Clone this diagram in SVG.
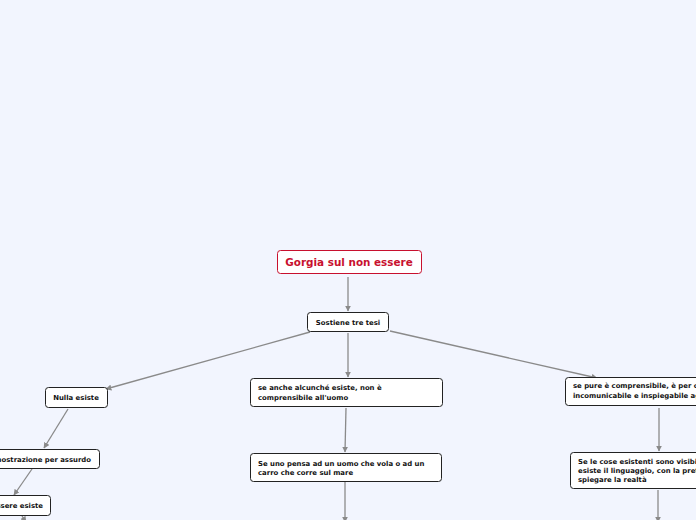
<svg xmlns="http://www.w3.org/2000/svg" width="696" height="520" viewBox="0 0 696 520">
<style>
.bg{fill:#f2f5fe}
.box{fill:#ffffff;stroke:#222;stroke-width:1}
.root{fill:#ffffff;stroke:#c8102e;stroke-width:1}
.t{font-family:"DejaVu Sans",Verdana,sans-serif;font-weight:bold;font-size:6.9px;fill:#111}
.rt{font-family:"DejaVu Sans",Verdana,sans-serif;font-weight:bold;font-size:10.4px;fill:#c8102e}
.c{stroke:#8a8a8a;stroke-width:1.3;fill:none;marker-end:url(#a)}
</style>
<defs>
<marker id="a" viewBox="0 0 10 10" refX="9" refY="5" markerWidth="6" markerHeight="6" orient="auto" markerUnits="userSpaceOnUse">
<path d="M0,0 L10,5 L0,10 z" fill="#8a8a8a"/>
</marker>
</defs>
<rect class="bg" x="0" y="0" width="696" height="520"/>
<g id="connectors">
<path class="c" d="M348,277 L348,311"/>
<path class="c" d="M310,332 L106,389"/>
<path class="c" d="M348,333 L348,377"/>
<path class="c" d="M390,331 L597,378"/>
<path class="c" d="M68,409 L44,448"/>
<path class="c" d="M32,469 L14,495"/>
<path class="c" d="M22,516 L26,522"/>
<path class="c" d="M346,408 L345,452"/>
<path class="c" d="M345,482 L345,522"/>
<path class="c" d="M659,408 L659,451"/>
<path class="c" d="M658,490 L658,522"/>
</g>
<g id="root">
<rect class="root" x="277.5" y="250.5" width="144" height="23" rx="3"/>
<text class="rt" x="349" y="266" text-anchor="middle">Gorgia sul non essere</text>
</g>
<g id="n-sostiene">
<rect class="box" x="307.5" y="312.5" width="81" height="19" rx="3"/>
<text class="t" x="348" y="325" text-anchor="middle">Sostiene tre tesi</text>
</g>
<g id="n-nulla">
<rect class="box" x="45.5" y="387.5" width="62" height="20" rx="3"/>
<text class="t" x="76" y="400" text-anchor="middle">Nulla esiste</text>
</g>
<g id="n-dimostrazione">
<rect class="box" x="-25.5" y="449.5" width="125" height="19" rx="3"/>
<text class="t" x="91" y="462" text-anchor="end">Dimostrazione per assurdo</text>
</g>
<g id="n-essere">
<rect class="box" x="-40.5" y="495.5" width="91" height="20" rx="3"/>
<text class="t" x="43" y="508" text-anchor="end">Il non essere esiste</text>
</g>
<g id="n-anche">
<rect class="box" x="250.5" y="378.5" width="192" height="28" rx="3"/>
<text class="t" x="258" y="390">se anche alcunché esiste, non è</text>
<text class="t" x="258" y="400">comprensibile all'uomo</text>
</g>
<g id="n-pensa">
<rect class="box" x="250.5" y="453.5" width="191" height="28" rx="3"/>
<text class="t" x="258" y="466">Se uno pensa ad un uomo che vola o ad un</text>
<text class="t" x="258" y="475">carro che corre sul mare</text>
</g>
<g id="n-pure">
<rect class="box" x="565.5" y="377.5" width="200" height="28" rx="3"/>
<text class="t" x="573" y="388">se pure è comprensibile, è per ciò</text>
<text class="t" x="573" y="398">incomunicabile e inspiegabile agli altri</text>
</g>
<g id="n-cose">
<rect class="box" x="570.5" y="452.5" width="200" height="36" rx="3"/>
<text class="t" x="578" y="464">Se le cose esistenti sono visibili e udibili</text>
<text class="t" x="578" y="473">esiste il linguaggio, con la pretesa di</text>
<text class="t" x="578" y="482">spiegare la realtà</text>
</g>
</svg>
